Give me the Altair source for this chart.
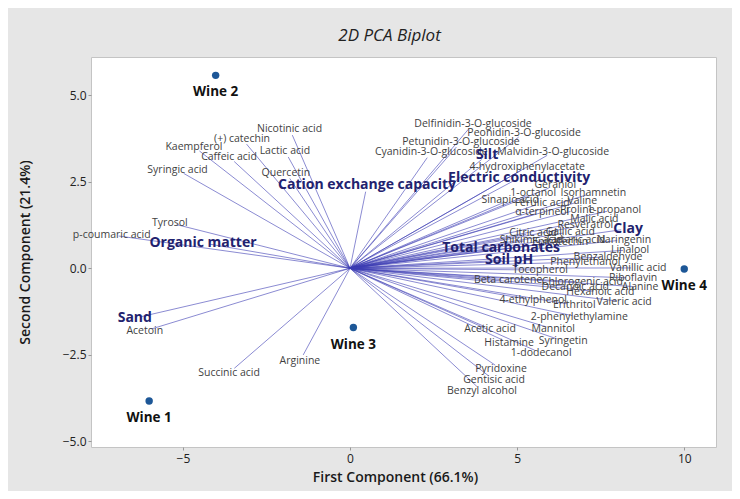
import altair as alt
import pandas as pd
import numpy as np

# ---- data ----
compound_names = [
    "Nicotinic acid", "(+) catechin", "Kaempferol", "Lactic acid", "Caffeic acid",
    "Syringic acid", "Quercetin", "Tyrosol", "p-coumaric acid", "Acetoin",
    "Succinic acid", "Arginine", "Delfinidin-3-O-glucoside", "Peonidin-3-O-glucoside",
    "Petunidin-3-O-glucoside", "Cyanidin-3-O-glucoside", "Malvidin-3-O-glucoside",
    "4-hydroxiphenylacetate", "Geraniol", "1-octanol", "Isorhamnetin", "Sinapic acid",
    "Ferulic acid", "Valine", "α-terpineol", "Proline", "1-propanol", "Malic acid",
    "Resveratrol", "Citric acid", "Gallic acid", "Shikimic acid", "Tartaric acid",
    "Epicatechin", "Naringenin", "Linalool", "Benzaldehyde", "Phenylethanol",
    "Vanillic acid", "Tocopherol", "Beta carotene", "Riboflavin", "Chlorogenic acid",
    "Decanoic acid", "Alanine", "Hexanoic acid", "Valeric acid", "4-ethylphenol",
    "Erithritol", "2-phenylethylamine", "Acetic acid", "Mannitol", "Histamine",
    "Syringetin", "1-dodecanol", "Pyridoxine", "Gentisic acid", "Benzyl alcohol",
]
compound_x = [
    -1.81, -3.23, -4.67, -1.95, -3.62,
    -5.16, -1.92, -5.39, -7.13, -6.14,
    -3.62, -1.50, 3.68, 5.21,
    3.32, 2.43, 6.08,
    5.30, 6.14, 5.48, 7.28, 4.79,
    5.75, 6.95, 5.75, 6.80, 7.90, 7.31,
    7.04, 5.48, 6.59, 5.42, 6.74,
    6.29, 8.20, 8.38, 7.72, 7.04,
    8.62, 5.69, 4.73, 8.47, 6.95,
    6.74, 8.68, 7.49, 8.20, 5.48,
    6.71, 6.86, 4.19, 6.08, 4.76,
    6.38, 5.72, 4.52, 4.31, 3.95,
]
compound_y = [
    4.03, 3.74, 3.51, 3.39, 3.22,
    2.84, 2.76, 1.31, 0.96, -1.81,
    -3.02, -2.68, 4.17, 3.91,
    3.65, 3.36, 3.36,
    2.93, 2.39, 2.18, 2.18, 1.98,
    1.89, 1.95, 1.63, 1.69, 1.69, 1.42,
    1.25, 1.02, 1.05, 0.82, 0.82,
    0.76, 0.82, 0.53, 0.33, 0.18,
    0.01, -0.05, -0.34, -0.28, -0.40,
    -0.54, -0.54, -0.68, -0.97, -0.92,
    -1.06, -1.41, -1.75, -1.75, -2.16,
    -2.10, -2.45, -2.91, -3.23, -3.55,
]

soil_names = ["Sand", "Organic matter", "Cation exchange capacity", "Silt",
              "Electric conductivity", "Clay", "Total carbonates", "Soil pH"]
soil_x = [-6.44, -4.40, 0.51, 4.10, 5.06, 8.32, 4.52, 4.76]
soil_y = [-1.44, 0.73, 2.41, 3.27, 2.61, 1.14, 0.59, 0.24]

wine_names = ["Wine 1", "Wine 2", "Wine 3", "Wine 4"]
wine_x = [-6.01, -4.02, 0.10, 10.0]
wine_y = [-3.83, 5.57, -1.71, -0.02]

x_ticks = [-5, 0, 5, 10]
y_ticks = [-5.0, -2.5, 0.0, 2.5, 5.0]
x_dom = [-7.75, 10.95]
y_dom = [-5.16, 6.1]

W, H = 625, 390
FONT = "Open Sans"

# ---- tables ----
comp = pd.DataFrame({"name": compound_names, "x": compound_x, "y": compound_y, "kind": "compound"})
soil = pd.DataFrame({"name": soil_names, "x": soil_x, "y": soil_y, "kind": "soil"})
vec = pd.concat([comp, soil], ignore_index=True)
# stop each vector a few pixels short of its label centre
sx = W / (x_dom[1] - x_dom[0])
sy = H / (y_dom[1] - y_dom[0])
plen = np.sqrt((vec["x"] * sx) ** 2 + (vec["y"] * sy) ** 2)
f = np.clip(1 - 7 / plen, 0, 1)
vec["xe"] = vec["x"] * f
vec["ye"] = vec["y"] * f
vec["x0"] = 0.0
vec["y0"] = 0.0

wines = pd.DataFrame({"name": wine_names, "x": wine_x, "y": wine_y})

xs = alt.Scale(domain=x_dom, nice=False, zero=False)
ys = alt.Scale(domain=y_dom, nice=False, zero=False)

x_axis = alt.Axis(values=x_ticks, title="First Component (66.1%)", grid=False,
                  tickSize=3, tickColor="#999999", domain=False, labelPadding=3,
                  labelFontSize=12, labelColor="#222222", labelFont=FONT,
                  titleFont=FONT, titleFontSize=14, titleFontWeight=600,
                  titleColor="#1a1a1a", titleY=30, titleX=304, titleBaseline="middle")
y_axis = alt.Axis(values=y_ticks, format=".1f", title="Second Component (21.4%)", grid=False,
                  tickSize=3, tickColor="#999999", domain=False, labelPadding=2,
                  labelFontSize=12, labelColor="#222222", labelFont=FONT,
                  titleFont=FONT, titleFontSize=14, titleFontWeight=600,
                  titleColor="#1a1a1a", titleX=-66, titleY=195, titleAngle=-90,
                  titleBaseline="middle", titleAlign="center")

lines = alt.Chart(vec).mark_rule(color="#3c3cb4", strokeWidth=0.8, opacity=0.75).encode(
    x=alt.X("x0:Q", scale=xs, axis=x_axis),
    y=alt.Y("y0:Q", scale=ys, axis=y_axis),
    x2="xe:Q",
    y2="ye:Q",
)

comp_text = alt.Chart(comp).mark_text(font=FONT, fontSize=10.5, color="#3f3f3f",
                                      align="center", baseline="middle").encode(
    x=alt.X("x:Q", scale=xs), y=alt.Y("y:Q", scale=ys), text="name:N")

soil_text = alt.Chart(soil).mark_text(font=FONT, fontSize=14, fontWeight="bold", color="#22226e",
                                      align="center", baseline="middle").encode(
    x=alt.X("x:Q", scale=xs), y=alt.Y("y:Q", scale=ys), text="name:N")

wine_pts = alt.Chart(wines).mark_point(filled=True, size=55, color="#1d5797", opacity=1).encode(
    x=alt.X("x:Q", scale=xs), y=alt.Y("y:Q", scale=ys))

wine_text = alt.Chart(wines).mark_text(font=FONT, fontSize=13.5, fontWeight="bold", color="#111111",
                                       align="center", baseline="middle", dy=17).encode(
    x=alt.X("x:Q", scale=xs), y=alt.Y("y:Q", scale=ys), text="name:N")

chart = alt.layer(lines, comp_text, soil_text, wine_pts, wine_text).properties(
    width=W, height=H,
    autosize=alt.AutoSizeParams(type="none"),
    padding={"left": 83, "top": 49, "right": 16, "bottom": 44},
    background="#e6e6e6",
    title=alt.TitleParams("2D PCA Biplot", font=FONT, fontSize=17, fontStyle="italic",
                          fontWeight="normal", color="#222222", anchor="middle",
                          frame="group", dx=-14, dy=13, offset=12, baseline="alphabetic"),
).configure_view(fill="white", stroke="#c4c4c4", strokeWidth=1)

chart.save("out.html", embed_options={"renderer": "svg", "actions": False})
